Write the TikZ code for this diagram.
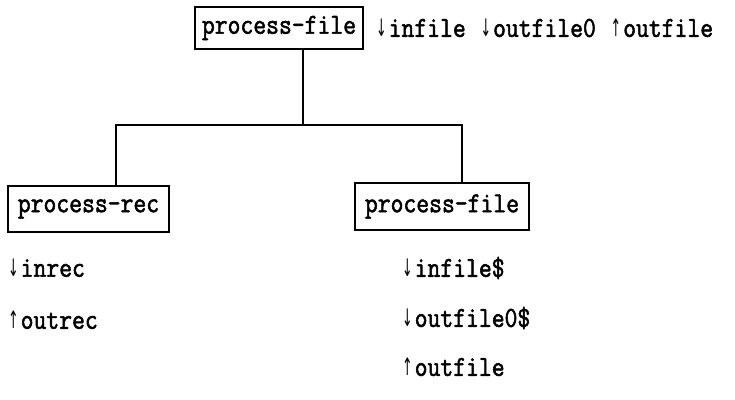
\documentclass[tikz,border=0pt]{standalone}
\usepackage{fontspec}
\setmainfont{Latin Modern Mono}[FakeBold=1.8,FakeStretch=0.86]
\newfontfamily\arrowfont{DejaVu Sans}
\newcommand{\arrowglyph}[1]{\makebox[0.5em][c]{\scalebox{0.6}[1.15]{\arrowfont\fontsize{21}{21}\selectfont #1}}}
\newcommand{\dn}{\arrowglyph{↓}}
\newcommand{\up}{\arrowglyph{↑}}
\begin{document}
\begin{tikzpicture}[x=1pt,y=-1pt,
  font=\fontsize{29}{31}\selectfont,
  modbox/.style={draw,line width=1.6pt,rectangle,inner sep=0pt},
  param/.style={anchor=west,inner sep=0pt},
  link/.style={line width=1.6pt}]
\useasboundingbox (0,0) rectangle (735,399);

% module boxes
\node[modbox,minimum width=168pt,minimum height=42pt] (top) at (279,28) {process-file};
\node[modbox,minimum width=161pt,minimum height=46pt] (rec) at (88.5,209) {process-rec};
\node[modbox,minimum width=174pt,minimum height=47pt] (sub) at (442,206.5) {process-file};

% parameter lists
\node[param] (ptop) at (374,28) {\dn infile \dn outfile0 \up outfile};
\node[param] (pr1) at (6,268) {\dn inrec};
\node[param] (pr2) at (6,320) {\up outrec};
\node[param] (pf1) at (400,268) {\dn infile\$};
\node[param] (pf2) at (400,318) {\dn outfile0\$};
\node[param] (pf3) at (400,367) {\up outfile};

% tree connectors
\coordinate (jm) at (303,125);
\coordinate (jl) at (116,125);
\coordinate (jr) at (462,125);
\draw[link] (top.south -| jm) -- (jm);
\draw[link] (rec.north -| jl) -- (jl) -- (jr) -- (sub.north -| jr);
\end{tikzpicture}
\end{document}
